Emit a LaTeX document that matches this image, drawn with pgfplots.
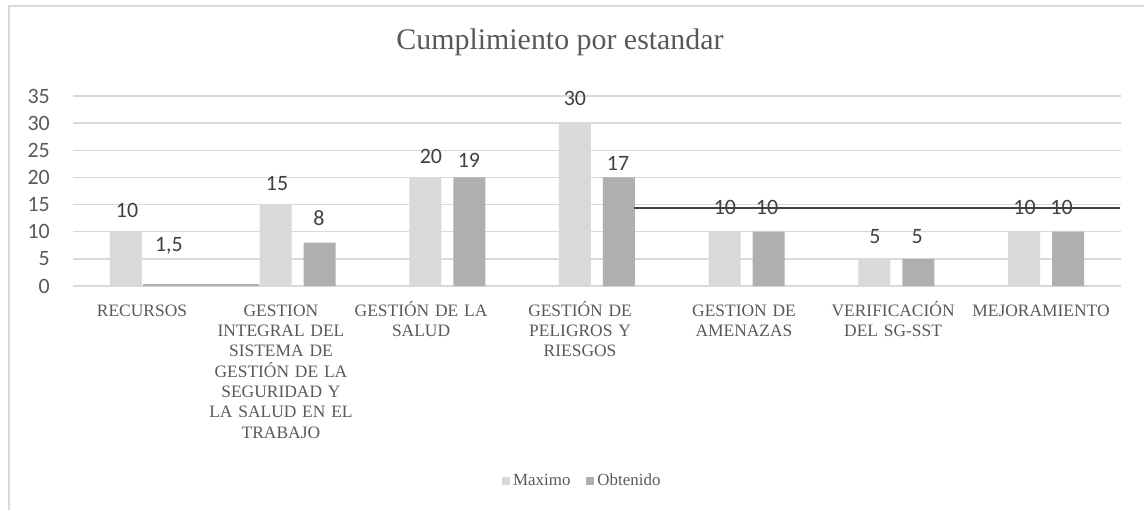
\documentclass[border=0pt]{standalone}
\usepackage{fontspec}
\setmainfont{Liberation Serif}
\newfontfamily\carlito{Carlito}
\usepackage{pgfplots}
\pgfplotsset{compat=1.18}
\definecolor{maxc}{HTML}{D9D9D9}
\definecolor{obtc}{HTML}{AFAFAF}
\definecolor{gridc}{HTML}{D9D9D9}
\definecolor{txtc}{HTML}{595959}
\definecolor{lblc}{HTML}{404040}
\begin{document}
\begin{tikzpicture}
\useasboundingbox (0bp,0bp) rectangle (1144bp,510bp);
\draw[gridc, line width=1.5bp] (9bp,0bp) -- (9bp,504bp) -- (1144bp,504bp);
\node[anchor=base, font=\fontsize{30}{36}\selectfont, text=txtc, inner sep=0pt] at (560bp,460bp) {Cumplimiento por estandar};
\begin{axis}[
  at={(73bp,224bp)}, anchor=south west,
  scale only axis, width=1048bp, height=190bp,
  xmin=-0.5, xmax=6.5, ymin=0, ymax=35,
  axis line style={draw=none},
  ytick={0,5,...,35},
  ymajorgrids, grid style={gridc, line width=1.5bp},
  major tick length=0pt,
  xtick={-0.039,0.889,1.825,2.887,3.982,4.978,5.966},
  xticklabels={RECURSOS,
    {GESTION\\INTEGRAL DEL\\SISTEMA DE\\GESTIÓN DE LA\\SEGURIDAD Y\\LA SALUD EN EL\\TRABAJO},
    {GESTIÓN DE LA\\SALUD},
    {GESTIÓN DE\\PELIGROS Y\\RIESGOS},
    {GESTION DE\\AMENAZAS},
    {VERIFICACIÓN\\DEL SG-SST},
    MEJORAMIENTO},
  xticklabel style={align=center, text width=150bp, font=\fontsize{17.5}{20.4}\selectfont, text=txtc, anchor=north, inner sep=0pt, yshift=-12bp,
    execute at begin node={\rule{0pt}{18bp}}},
  yticklabel style={font=\carlito\fontsize{22}{26}\selectfont, text=txtc, anchor=east, inner sep=0pt, xshift=-23bp},
  /pgf/number format/assume math mode=true,
  legend style={at={(0.486,-1.026)}, anchor=center, draw=none, fill=none,
    legend columns=2, font=\fontsize{17}{20}\selectfont, text=txtc, inner sep=0pt,
    nodes={text height=12bp, text depth=3bp},
    /tikz/every odd column/.append style={column sep=1bp},
    /tikz/every even column/.append style={column sep=14bp}},
  legend image code/.code={\fill[#1] (0bp,-4bp) rectangle (8bp,4bp);},
  clip=false,
]
\addplot[ybar, bar width=32bp, bar shift=-22bp, fill=maxc, draw=none]
  coordinates {(0,10)(1,15)(2,20)(3,30)(4,10)(5,5)(6,10)};
\addplot[ybar, bar width=32bp, bar shift=22bp, fill=obtc, draw=none]
  coordinates {(1,8)(2,20)(3,20)(4,10)(5,5)(6,10)};
\legend{Maximo, Obtenido}
\addplot[fill=obtc, draw=none, forget plot]
  coordinates {(-0.032,0)(-0.032,0.35)(0.742,0.35)(0.742,0)} \closedcycle;
\addplot[lblc, line width=1.8bp, forget plot]
  coordinates {(3.247,14.4)(6.496,14.4)};
\addplot[draw=none, mark=none, forget plot, nodes near coords, point meta=explicit symbolic,
  nodes near coords style={anchor=center, font=\carlito\fontsize{22}{26}\selectfont, text=lblc, inner sep=0pt}]
  coordinates {
    (-0.139,14.0)[10] (0.141,7.37)[1,5]
    (0.863,18.8)[15] (1.143,12.5)[8]
    (1.891,23.95)[20] (2.145,23.2)[19]
    (2.853,34.6)[30] (3.141,22.6)[17]
    (3.855,14.46)[10] (4.136,14.46)[10]
    (4.857,9.1)[5] (5.138,9.1)[5]
    (5.856,14.46)[10] (6.103,14.46)[10]
  };
\end{axis}
\end{tikzpicture}
\end{document}
